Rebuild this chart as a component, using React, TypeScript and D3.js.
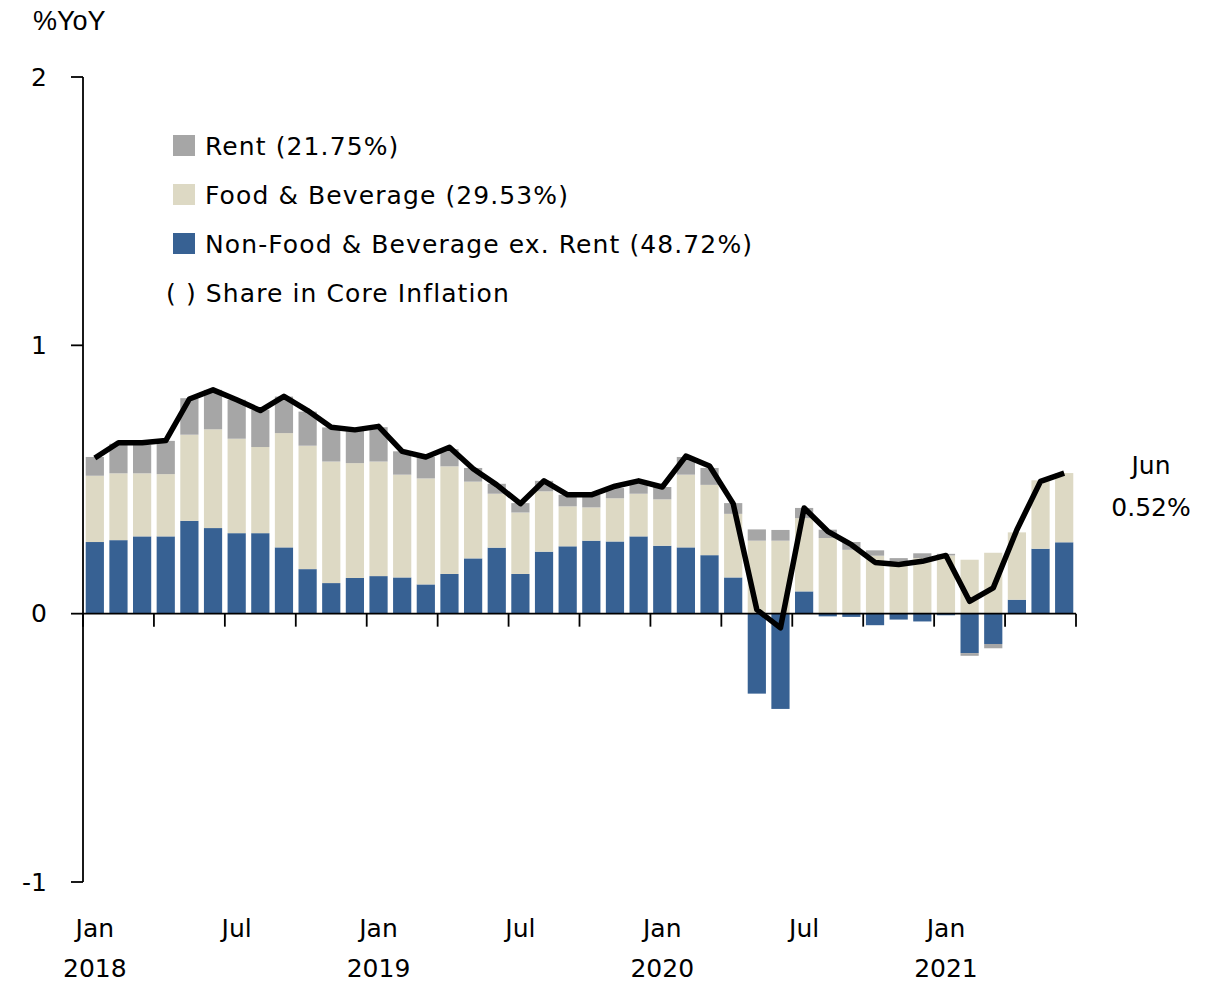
import React, { useEffect, useRef } from 'react';
import * as d3 from 'd3';

// monthly, Jan 2018 - Jun 2021
const months = d3.range(42).map(i => new Date(2018, i, 1));

// contribution to core inflation (%YoY)
const nonFood = [
  0.267, 0.274, 0.288, 0.288, 0.346, 0.319, 0.3, 0.3, 0.247, 0.166, 0.114, 0.133,
  0.14, 0.135, 0.109, 0.148, 0.206, 0.246, 0.148, 0.231, 0.251, 0.272, 0.269, 0.288,
  0.253, 0.247, 0.218, 0.135, -0.298, -0.355, 0.083, -0.01, -0.012, -0.043, -0.022, -0.029,
  -0.006, -0.147, -0.113, 0.052, 0.242, 0.266,
];
const food = [
  0.247, 0.249, 0.235, 0.232, 0.321, 0.368, 0.352, 0.321, 0.426, 0.46, 0.453, 0.428,
  0.427, 0.383, 0.395, 0.401, 0.286, 0.201, 0.229, 0.225, 0.149, 0.124, 0.161, 0.159,
  0.173, 0.271, 0.262, 0.237, 0.272, 0.272, 0.273, 0.282, 0.238, 0.216, 0.195, 0.207,
  0.217, 0.201, 0.227, 0.251, 0.255, 0.258,
];
const rent = [
  0.07, 0.11, 0.106, 0.124, 0.136, 0.147, 0.145, 0.139, 0.136, 0.127, 0.127, 0.124,
  0.128, 0.087, 0.08, 0.064, 0.051, 0.037, 0.035, 0.039, 0.043, 0.047, 0.038, 0.04,
  0.046, 0.066, 0.063, 0.04, 0.042, 0.04, 0.038, 0.031, 0.029, 0.02, 0.012, 0.018,
  0.006, -0.01, -0.016, 0, 0, 0,
];
const core = [
  0.58, 0.637, 0.637, 0.645, 0.8, 0.834, 0.797, 0.757, 0.81, 0.757, 0.695, 0.685,
  0.698, 0.605, 0.584, 0.62, 0.54, 0.48, 0.41, 0.495, 0.443, 0.443, 0.475, 0.495,
  0.472, 0.587, 0.55, 0.41, 0.015, -0.053, 0.394, 0.307, 0.257, 0.191, 0.183, 0.195,
  0.217, 0.046, 0.096, 0.313, 0.493, 0.524,
];

const seriesKeys = ['nonFood', 'food', 'rent'];
const colors = { nonFood: '#376193', food: '#ddd9c4', rent: '#a6a6a6' };
const legendItems = [
  { key: 'rent', label: 'Rent (21.75%)' },
  { key: 'food', label: 'Food & Beverage (29.53%)' },
  { key: 'nonFood', label: 'Non-Food & Beverage ex. Rent (48.72%)' },
];
const yTicks = [-1, 0, 1, 2];

const W = 1208, H = 982;
const FONT = '"DejaVu Sans", sans-serif';

export default function App() {
  const ref = useRef<SVGSVGElement>(null);

  useEffect(() => {
    const svg = d3.select(ref.current);
    svg.selectAll('*').remove();

    const rows = months.map((m, i) => ({ m, nonFood: nonFood[i], food: food[i], rent: rent[i] }));

    const x = d3.scaleBand<Date>().domain(months).range([83, 1076]).paddingInner(0.23).paddingOuter(0.115);
    const y = d3.scaleLinear().domain([-1, 2]).range([882, 77]);
    const bw = x.bandwidth();

    const stack = d3.stack<any>().keys(seriesKeys).offset(d3.stackOffsetDiverging);
    const layers = stack(rows);

    // bars
    svg.append('g')
      .selectAll('g')
      .data(layers)
      .enter()
      .append('g')
      .attr('fill', d => colors[d.key])
      .selectAll('rect')
      .data(d => d)
      .enter()
      .append('rect')
      .attr('x', d => x(d.data.m))
      .attr('width', bw)
      .attr('y', d => y(Math.max(d[0], d[1])))
      .attr('height', d => Math.abs(y(d[0]) - y(d[1])));

    // axes
    const axisG = svg.append('g').attr('stroke', '#000').attr('stroke-width', 1.8);
    axisG.append('line').attr('x1', 83).attr('x2', 83).attr('y1', y(2)).attr('y2', y(-1));
    axisG.append('line').attr('x1', 83).attr('x2', 1076).attr('y1', y(0)).attr('y2', y(0));
    yTicks.forEach(t => {
      axisG.append('line').attr('x1', 71).attr('x2', 83).attr('y1', y(t)).attr('y2', y(t));
    });
    const gap = (x.step() - bw) / 2;
    const xTickPos = months.filter((_, i) => i % 3 === 0).map(m => x(m) - gap).concat([1076]);
    xTickPos.forEach(p => {
      axisG.append('line').attr('x1', p).attr('x2', p).attr('y1', y(0)).attr('y2', y(0) + 13);
    });

    svg.append('g')
      .selectAll('text')
      .data(yTicks)
      .enter()
      .append('text')
      .attr('x', 47)
      .attr('y', d => y(d))
      .attr('dy', '0.35em')
      .attr('text-anchor', 'end')
      .style('font-family', FONT)
      .style('font-size', '25px')
      .style('font-weight', 500)
      .text(d => d);

    const labelMonths = months.filter(m => m.getMonth() === 0 || m.getMonth() === 6);
    const xl = svg.append('g').style('font-family', FONT).style('font-size', '25px').attr('text-anchor', 'middle');
    labelMonths.forEach(m => {
      const cx = x(m) + bw / 2;
      xl.append('text').attr('x', cx).attr('y', 937).text(d3.timeFormat('%b')(m));
      if (m.getMonth() === 0) xl.append('text').attr('x', cx).attr('y', 977).text(d3.timeFormat('%Y')(m));
    });

    // core inflation line
    const line = d3.line<number>()
      .x((_, i) => x(months[i]) + bw / 2)
      .y(d => y(d));
    svg.append('path')
      .datum(core)
      .attr('d', line)
      .attr('fill', 'none')
      .attr('stroke', '#000')
      .attr('stroke-width', 5.5)
      .attr('stroke-linejoin', 'round');

    // legend
    const lg = svg.append('g').style('font-family', FONT).style('font-size', '25px').style('letter-spacing', '1.1px');
    legendItems.forEach((it, i) => {
      const cy = 146 + i * 49;
      lg.append('rect').attr('x', 173).attr('y', cy - 11).attr('width', 22).attr('height', 21).attr('fill', colors[it.key]);
      lg.append('text').attr('x', 205).attr('y', cy).attr('dy', '0.35em').text(it.label);
    });
    lg.append('text').attr('x', 166).attr('y', 146 + 3 * 49).attr('dy', '0.35em').text('( ) Share in Core Inflation');

    // annotation
    const an = svg.append('g').style('font-family', FONT).style('font-size', '25px').attr('text-anchor', 'middle');
    an.append('text').attr('x', 1151).attr('y', 465).attr('dy', '0.35em').text('Jun');
    an.append('text').attr('x', 1151).attr('y', 507).attr('dy', '0.35em').text('0.52%');

    svg.append('text')
      .attr('x', 33)
      .attr('y', 30)
      .style('font-family', '"Liberation Sans", Arial, sans-serif')
      .style('font-size', '27px')
      .text('%YoY');
  }, []);

  return (
    <svg
      ref={ref}
      width={W}
      height={H}
      style={{ position: 'absolute', left: 0, top: 0, background: '#fff' }}
    />
  );
}
